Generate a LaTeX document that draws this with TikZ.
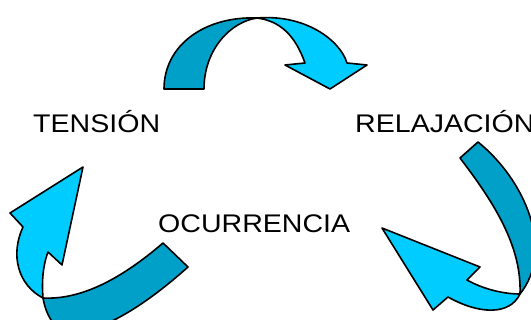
\documentclass[tikz,border=0pt]{standalone}
\usepackage{fontspec}
\setmainfont{Liberation Sans}
\definecolor{lightblue}{RGB}{0,204,255}
\definecolor{darkblue}{RGB}{0,160,200}
\newcommand{\widetxt}[1]{\scalebox{1.12}[1]{#1}}
\begin{document}
\begin{tikzpicture}[x=1pt,y=-1pt,
  front/.style={fill=lightblue,draw=black,line width=1.6pt,line join=round},
  back/.style={fill=darkblue,draw=black,line width=1.6pt,line join=round},
  label/.style={inner sep=0pt,anchor=base west,font=\fontsize{25.5pt}{28pt}\selectfont}]
\useasboundingbox (0,0) rectangle (531,320);
\clip (0,0) rectangle (531,320);
% top arrow
\path[back] (164,89) .. controls (164,45) and (205,16) .. (257,18)
  .. controls (230,22) and (204,50) .. (204,89) -- cycle;
\path[front] (257,18) .. controls (305,14) and (340,40) .. (347,63)
  -- (367,65) -- (330,89) -- (285,65) -- (305,63)
  .. controls (295,35) and (280,21) .. (257,18) -- cycle;
% right arrow
\path[back] (460,158) -- (478,142) .. controls (525,180) and (555,250) .. (520,294)
  .. controls (522,245) and (492,200) .. (460,158) -- cycle;
\path[front] (520,294) .. controls (505,294) and (485,290) .. (467,280)
  -- (480,267) -- (382,228) -- (433,310) -- (448,297)
  .. controls (480,315) and (510,315) .. (520,294) -- cycle;
% left arrow
\path[back] (163,243) -- (188,267) .. controls (140,310) and (90,340) .. (60,330)
  .. controls (50,322) and (45,310) .. (43,298)
  .. controls (80,300) and (120,280) .. (163,243) -- cycle;
\path[front] (43,298) .. controls (18,285) and (10,255) .. (23,227)
  -- (10,213) -- (83,167) -- (62,265) -- (48,252)
  .. controls (42,268) and (42,285) .. (43,298) -- cycle;
% labels
\node[label] (tension) at (33,133) {\widetxt{TENSIÓN}};
\node[label] (relajacion) at (355,133) {\widetxt{RELAJACIÓN}};
\node[label] (ocurrencia) at (158,233) {\widetxt{OCURRENCIA}};
\end{tikzpicture}
\end{document}
